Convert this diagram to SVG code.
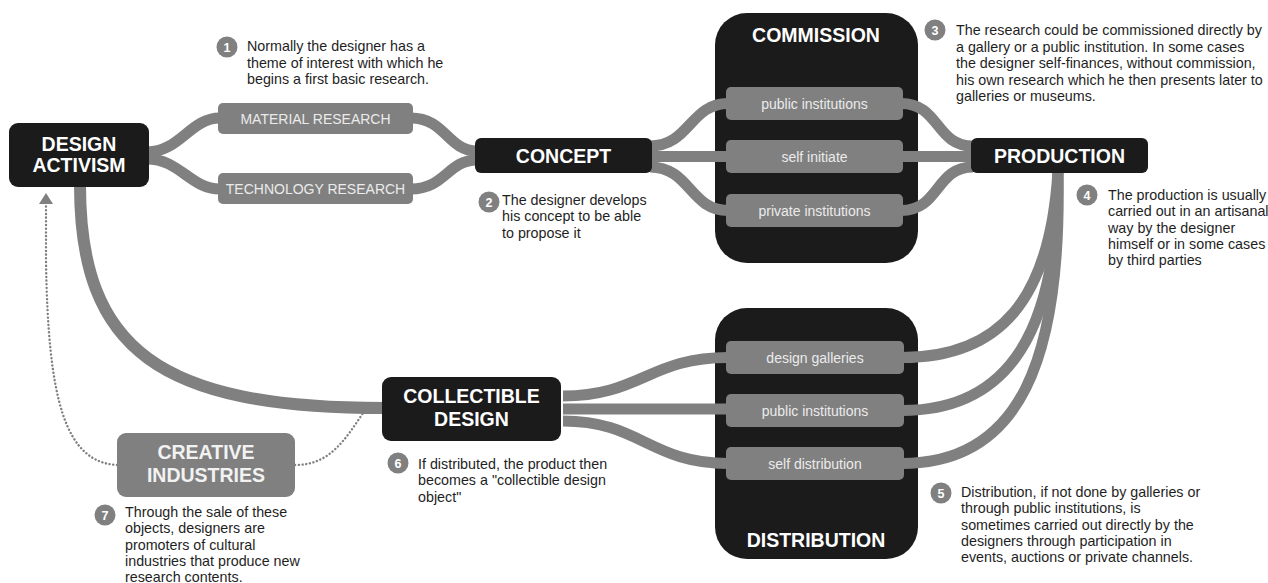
<svg xmlns="http://www.w3.org/2000/svg" width="1268" height="583" viewBox="0 0 1268 583">
<defs>
<style>
.node{fill:#1b1b1b}
.sub{fill:#808080}
.title{font-family:"Liberation Sans",Arial,sans-serif;font-weight:bold;font-size:19.5px;fill:#ffffff;text-anchor:middle}
.sublabel{font-family:"Liberation Sans",Arial,sans-serif;font-size:14px;fill:#ebebeb;text-anchor:middle}
.note{font-family:"Liberation Sans",Arial,sans-serif;font-size:14.3px;fill:#1e1e1e}
.badge{fill:#808080}
.num{font-family:"Liberation Sans",Arial,sans-serif;font-weight:bold;font-size:12.5px;fill:#ffffff;text-anchor:middle}
.conn{fill:none;stroke:#808080;stroke-width:11}
.dot{fill:none;stroke:#808080;stroke-width:2.4;stroke-dasharray:0.1 3.6;stroke-linecap:round}
</style>
<marker id="arr" markerUnits="userSpaceOnUse" markerWidth="12" markerHeight="14" viewBox="0 0 12 14" refX="0" refY="7" orient="auto">
<path d="M0,0 L11,7 L0,14 Z" fill="#808080"/>
</marker>
</defs>
<rect width="1268" height="583" fill="#ffffff"/>

<g id="commission">
<rect class="node" x="715" y="13" width="203" height="250" rx="32"/>
<text class="title" x="816" y="41.5">COMMISSION</text>
</g>
<g id="distribution">
<rect class="node" x="715" y="308" width="203" height="251" rx="32"/>
<text class="title" x="816" y="547">DISTRIBUTION</text>
</g>

<g id="connectors">
<path class="conn" d="M147,152 C180,152 190,118 220,118"/>
<path class="conn" d="M147,159 C180,159 190,189 220,189"/>
<path class="conn" d="M411,118 C445,118 448,151 477,151"/>
<path class="conn" d="M411,189 C445,189 448,160 477,160"/>
<path class="conn" d="M650,146 C690,146 690,103.5 728,103.5"/>
<path class="conn" d="M650,156.5 L728,156.5"/>
<path class="conn" d="M650,167 C690,167 690,210.5 728,210.5"/>
<path class="conn" d="M901,103.5 C940,103.5 935,146 973,146"/>
<path class="conn" d="M901,156.5 L973,156.5"/>
<path class="conn" d="M901,210.5 C940,210.5 935,167 973,167"/>
<path class="conn" d="M902,357.5 C1000,357.5 1050,300 1058,171"/>
<path class="conn" d="M902,410.5 C1010,410.5 1058,330 1058,171"/>
<path class="conn" d="M902,463.5 C1020,463.5 1062,360 1058,171"/>
<path class="conn" d="M563,396 C640,396 650,357.5 728,357.5"/>
<path class="conn" d="M563,409 L728,409"/>
<path class="conn" d="M563,421 C640,421 650,463.5 728,463.5"/>
<path class="conn" style="stroke-width:12" d="M80,185 C80,350 160,408 384,408"/>
<path class="dot" d="M117,465 C65,462 48,400 46,260 L46,204" marker-end="url(#arr)"/>
<path class="dot" d="M295,465 C330,465 345,440 365,410"/>
</g>

<g id="design-activism">
<rect class="node" x="9" y="123" width="140" height="64" rx="9"/>
<text class="title" x="79" y="151">DESIGN</text>
<text class="title" x="79" y="172">ACTIVISM</text>
</g>
<g id="material-research">
<rect class="sub" x="218" y="103" width="195" height="31" rx="5"/>
<text class="sublabel" x="315.5" y="123.5">MATERIAL RESEARCH</text>
</g>
<g id="technology-research">
<rect class="sub" x="218" y="173" width="195" height="31" rx="5"/>
<text class="sublabel" x="315.5" y="193.5">TECHNOLOGY RESEARCH</text>
</g>
<g id="concept">
<rect class="node" x="475" y="138" width="177" height="35" rx="6"/>
<text class="title" x="563.5" y="162.5">CONCEPT</text>
</g>
<g id="commission-public">
<rect class="sub" x="726" y="87" width="177" height="33" rx="5"/>
<text class="sublabel" x="814.5" y="108.5">public institutions</text>
</g>
<g id="commission-self">
<rect class="sub" x="726" y="140" width="177" height="33" rx="5"/>
<text class="sublabel" x="814.5" y="161.5">self initiate</text>
</g>
<g id="commission-private">
<rect class="sub" x="726" y="194" width="177" height="33" rx="5"/>
<text class="sublabel" x="814.5" y="215.5">private institutions</text>
</g>
<g id="production">
<rect class="node" x="971" y="138" width="177" height="35" rx="6"/>
<text class="title" x="1059.5" y="162.5">PRODUCTION</text>
</g>
<g id="distribution-galleries">
<rect class="sub" x="726" y="341" width="178" height="33" rx="5"/>
<text class="sublabel" x="815" y="362.5">design galleries</text>
</g>
<g id="distribution-public">
<rect class="sub" x="726" y="394" width="178" height="33" rx="5"/>
<text class="sublabel" x="815" y="415.5">public institutions</text>
</g>
<g id="distribution-self">
<rect class="sub" x="726" y="447" width="178" height="33" rx="5"/>
<text class="sublabel" x="815" y="468.5">self distribution</text>
</g>
<g id="collectible-design">
<rect class="node" x="382" y="377" width="179" height="64" rx="9"/>
<text class="title" x="471.5" y="403">COLLECTIBLE</text>
<text class="title" x="471.5" y="426">DESIGN</text>
</g>
<g id="creative-industries">
<rect class="sub" x="117" y="433" width="178" height="64" rx="9"/>
<text class="title" x="206" y="459" style="fill:#f2f2f2">CREATIVE</text>
<text class="title" x="206" y="482" style="fill:#f2f2f2">INDUSTRIES</text>
</g>

<g id="note-1">
<circle class="badge" cx="227" cy="47" r="10.5"/>
<text class="num" x="227" y="51.5">1</text>
<text class="note" x="247" y="51">Normally the designer has a</text>
<text class="note" x="247" y="67.5">theme of interest with which he</text>
<text class="note" x="247" y="84">begins a first basic research.</text>
</g>
<g id="note-2">
<circle class="badge" cx="489" cy="202" r="10.5"/>
<text class="num" x="489" y="206.5">2</text>
<text class="note" x="502" y="204.5">The designer develops</text>
<text class="note" x="502" y="221">his concept to be able</text>
<text class="note" x="502" y="237.5">to propose it</text>
</g>
<g id="note-3">
<circle class="badge" cx="935" cy="30" r="10.5"/>
<text class="num" x="935" y="34.5">3</text>
<text class="note" x="956" y="35">The research could be commissioned directly by</text>
<text class="note" x="956" y="51.5">a gallery or a public institution. In some cases</text>
<text class="note" x="956" y="68">the designer self-finances, without commission,</text>
<text class="note" x="956" y="84.5">his own research which he then presents later to</text>
<text class="note" x="956" y="101">galleries or museums.</text>
</g>
<g id="note-4">
<circle class="badge" cx="1087" cy="195" r="10.5"/>
<text class="num" x="1087" y="199.5">4</text>
<text class="note" x="1108" y="200">The production is usually</text>
<text class="note" x="1108" y="216.3">carried out in an artisanal</text>
<text class="note" x="1108" y="232.6">way by the designer</text>
<text class="note" x="1108" y="248.9">himself or in some cases</text>
<text class="note" x="1108" y="265.2">by third parties</text>
</g>
<g id="note-5">
<circle class="badge" cx="941" cy="493" r="10.5"/>
<text class="num" x="941" y="497.5">5</text>
<text class="note" x="961" y="497">Distribution, if not done by galleries or</text>
<text class="note" x="961" y="513.3">through public institutions, is</text>
<text class="note" x="961" y="529.6">sometimes carried out directly by the</text>
<text class="note" x="961" y="545.9">designers through participation in</text>
<text class="note" x="961" y="562.2">events, auctions or private channels.</text>
</g>
<g id="note-6">
<circle class="badge" cx="398" cy="463" r="10.5"/>
<text class="num" x="398" y="467.5">6</text>
<text class="note" x="418" y="468.5">If distributed, the product then</text>
<text class="note" x="418" y="485">becomes a "collectible design</text>
<text class="note" x="418" y="501.5">object"</text>
</g>
<g id="note-7">
<circle class="badge" cx="105" cy="515" r="10.5"/>
<text class="num" x="105" y="519.5">7</text>
<text class="note" x="125" y="517">Through the sale of these</text>
<text class="note" x="125" y="533.3">objects, designers are</text>
<text class="note" x="125" y="549.6">promoters of cultural</text>
<text class="note" x="125" y="565.9">industries that produce new</text>
<text class="note" x="125" y="582.2">research contents.</text>
</g>
</svg>
